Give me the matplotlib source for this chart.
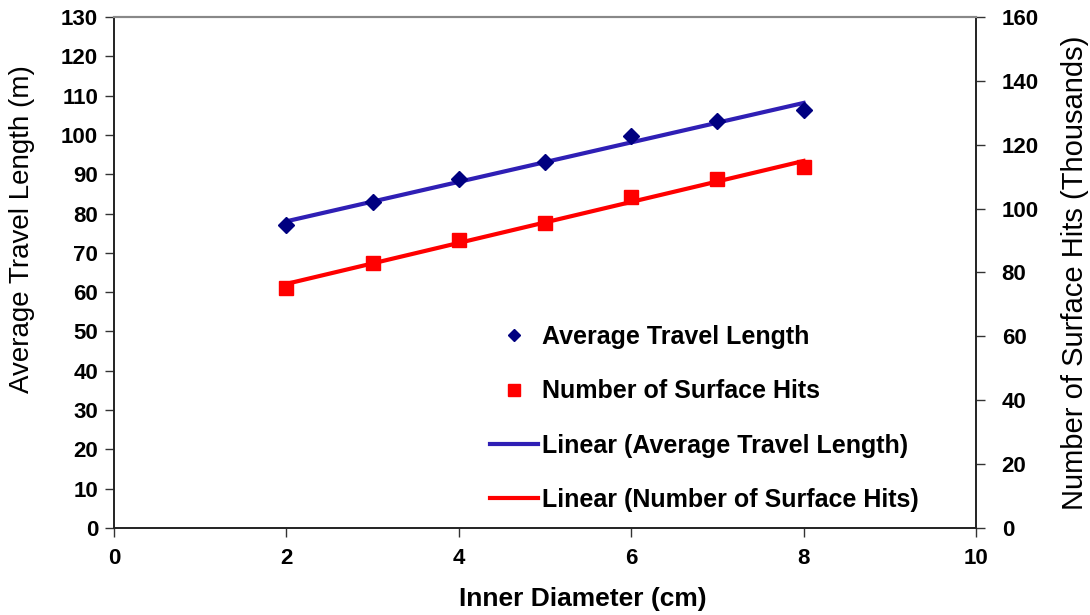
import numpy as np
import matplotlib
matplotlib.use("Agg")
import matplotlib.pyplot as plt
from matplotlib.lines import Line2D

plt.rcParams["font.family"] = ["Liberation Sans", "DejaVu Sans"]

diameter = [2, 3, 4, 5, 6, 7, 8]                          # cm
travel_len = [77, 83, 88.7, 93, 99.8, 103.6, 106.4]      # m
surface_hits = [75.2, 82.9, 90.2, 95.6, 103.5, 109.2, 113.1]  # thousands

NAVY = "#000080"
BLUE = "#2F1FB5"
RED = "#FF0000"

fig = plt.figure(figsize=(10.9, 6.15), dpi=100)
ax = fig.add_axes([0.1046, 0.1415, 0.7908, 0.8309])
ax2 = ax.twinx()

# linear trend lines (excel style)
x = np.array(diameter, dtype=float)
b1 = np.polyfit(x, travel_len, 1)
b2 = np.polyfit(x, surface_hits, 1)
ax.plot(x, np.polyval(b1, x), color=BLUE, lw=3, zorder=2)
ax2.plot(x, np.polyval(b2, x), color=RED, lw=3, zorder=2)

ax.plot(diameter, travel_len, "D", color=NAVY, ms=8, zorder=3)
ax2.plot(diameter, surface_hits, "s", color=RED, ms=10, zorder=3)

ax.set_xlim(0, 10)
ax.set_ylim(0, 130)
ax2.set_ylim(0, 160)
ax.set_xticks(range(0, 11, 2))
ax.set_yticks(range(0, 131, 10))
ax2.set_yticks(range(0, 161, 20))

for a in (ax, ax2):
    a.tick_params(length=6.5, width=1, labelsize=16, color="#333333")
    for t in a.get_yticklabels() + a.get_xticklabels():
        t.set_fontweight("bold")
    a.spines["top"].set_color("#888888")
    a.spines["top"].set_linewidth(1.5)
    for s in ("left", "right", "bottom"):
        a.spines[s].set_color("#222222")
        a.spines[s].set_linewidth(1.2)
ax.tick_params(axis="x", pad=8)
ax.tick_params(axis="y", pad=5)
ax2.tick_params(axis="y", pad=12)

ax.set_xlabel("Inner Diameter (cm)", fontsize=19, fontweight="bold")
ax.xaxis.set_label_coords(0.544, -0.116)
ax.set_ylabel("Average Travel Length (m)", fontsize=20)
ax.yaxis.set_label_coords(-0.092, 0.585)
ax2.set_ylabel("Number of Surface Hits (Thousands)", fontsize=21, labelpad=16)

handles = [
    Line2D([], [], ls="none", marker="D", color=NAVY, ms=6),
    Line2D([], [], ls="none", marker="s", color=RED, ms=8),
    Line2D([], [], color=BLUE, lw=3),
    Line2D([], [], color=RED, lw=3),
]
labels = ["Average Travel Length", "Number of Surface Hits",
          "Linear (Average Travel Length)", "Linear (Number of Surface Hits)"]
leg = ax2.legend(handles, labels, loc="upper left",
                 bbox_to_anchor=(490 / 1090, 1 - 325 / 615),
                 bbox_transform=fig.transFigure, frameon=False,
                 borderpad=0, borderaxespad=0, handlelength=1.92,
                 handletextpad=0.16, labelspacing=1.21,
                 prop={"size": 18, "weight": "bold"})

fig.savefig("out.png", dpi=100)
